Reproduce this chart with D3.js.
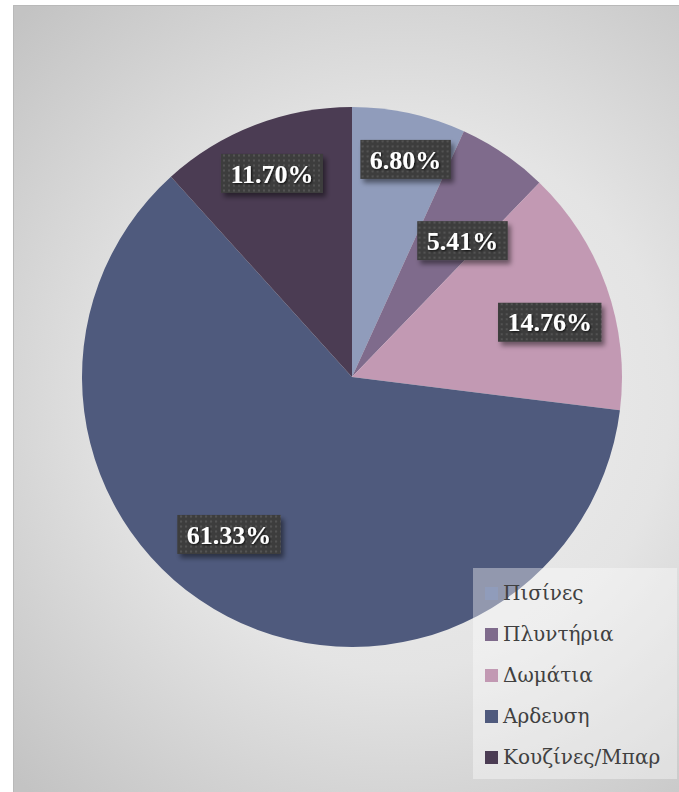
<!DOCTYPE html>
<html><head><meta charset="utf-8">
<script src="https://cdn.jsdelivr.net/npm/d3@7/dist/d3.min.js"></script>
<style>html,body{margin:0;padding:0;background:#fff;}svg{display:block;}</style>
</head><body>
<svg id="chart" width="679" height="792"></svg>
<script>
// ---- data ----
const categories = ["Πισίνες", "Πλυντήρια", "Δωμάτια", "Αρδευση", "Κουζίνες/Μπαρ"];
const values = [6.80, 5.41, 14.76, 61.33, 11.70];
const labels = ["6.80%", "5.41%", "14.76%", "61.33%", "11.70%"];
const colors = ["#909cbb", "#7f6b8c", "#c299b3", "#4f5a7d", "#4b3c53"];
// label placement (best-fit style): radius fraction and angular nudge in degrees
const labelRadius = [0.83, 0.65, 0.76, 0.74, 0.81];
const labelNudge = [1.6, 4.8, 4.0, 10.5, -0.4];

const svg = d3.select("#chart");
const W = 679, H = 792;
const defs = svg.append("defs");

const bg = defs.append("radialGradient").attr("id", "bg")
  .attr("gradientUnits", "userSpaceOnUse")
  .attr("cx", 400).attr("cy", 400).attr("r", 540);
bg.append("stop").attr("offset", "0").attr("stop-color", "#efefef");
bg.append("stop").attr("offset", "0.5").attr("stop-color", "#e4e4e4");
bg.append("stop").attr("offset", "1").attr("stop-color", "#c3c3c3");

const pat = defs.append("pattern").attr("id", "dots")
  .attr("patternUnits", "userSpaceOnUse").attr("width", 5).attr("height", 5);
pat.append("rect").attr("width", 5).attr("height", 5).attr("fill", "#3e3e3e");
pat.append("rect").attr("x", 1).attr("y", 1).attr("width", 2).attr("height", 2).attr("fill", "#535353");

const sh = defs.append("filter").attr("id", "shadow").attr("x", "-20%").attr("y", "-30%").attr("width", "150%").attr("height", "180%");
sh.append("feDropShadow").attr("dx", 3).attr("dy", 4).attr("stdDeviation", 2.5).attr("flood-color", "#000").attr("flood-opacity", 0.45);
const tsh = defs.append("filter").attr("id", "tshadow");
tsh.append("feDropShadow").attr("dx", 1).attr("dy", 1).attr("stdDeviation", 0.8).attr("flood-color", "#000").attr("flood-opacity", 0.8);

// chart area
svg.append("rect").attr("x", 13).attr("y", 5).attr("width", W - 13).attr("height", H - 5)
  .attr("fill", "url(#bg)");
svg.append("path").attr("d", `M13.5,${H}V5.5H${W}`).attr("fill", "none").attr("stroke", "#b9b9b9").attr("stroke-width", 1);

const cx = 352, cy = 377, R = 270;
const pie = d3.pie().sort(null).value(d => d)(values);
const arc = d3.arc().innerRadius(0).outerRadius(R);
const g = svg.append("g").attr("transform", `translate(${cx},${cy})`);
g.selectAll("path.slice").data(pie).join("path").attr("class", "slice")
  .attr("d", arc).attr("fill", (d, i) => colors[i]);

// data labels
const lg = g.append("g");
pie.forEach((d, i) => {
  const a = (d.startAngle + d.endAngle) / 2 + labelNudge[i] * Math.PI / 180;
  const r = R * labelRadius[i];
  const x = Math.sin(a) * r, y = -Math.cos(a) * r;
  const grp = lg.append("g").attr("transform", `translate(${x},${y})`);
  const rect = grp.append("rect").attr("fill", "url(#dots)").attr("filter", "url(#shadow)");
  const t = grp.append("text").text(labels[i])
    .attr("text-anchor", "middle").attr("dy", "0.35em")
    .attr("font-family", "'Liberation Serif', 'DejaVu Serif', serif")
    .attr("font-weight", "bold").attr("font-size", 26)
    .attr("fill", "#fff").attr("filter", "url(#tshadow)");
  const bb = t.node().getBBox();
  const pw = 9.5, bh = 39;
  rect.attr("x", -bb.width / 2 - pw).attr("y", -bh / 2).attr("width", bb.width + 2 * pw).attr("height", bh);
});

// legend
const legX = 473, legY = 568, legW = W - 473 - 2, legH = 779 - 568;
svg.append("rect").attr("x", legX).attr("y", legY).attr("width", legW).attr("height", legH)
  .attr("fill", "#ffffff").attr("fill-opacity", 0.38);
const ly = d3.scalePoint().domain(categories).range([593, 757]);
const items = svg.append("g").selectAll("g").data(categories).join("g")
  .attr("transform", d => `translate(485,${ly(d)})`);
items.append("rect").attr("x", 0).attr("y", -6).attr("width", 13).attr("height", 13)
  .attr("fill", (d, i) => colors[i]);
items.append("text").text(d => d).attr("x", 18).attr("dy", "0.35em")
  .attr("font-family", "'DejaVu Serif', serif")
  .attr("font-size", 20).attr("fill", "#404040")
  .attr("textLength", null);
</script>
</body></html>
